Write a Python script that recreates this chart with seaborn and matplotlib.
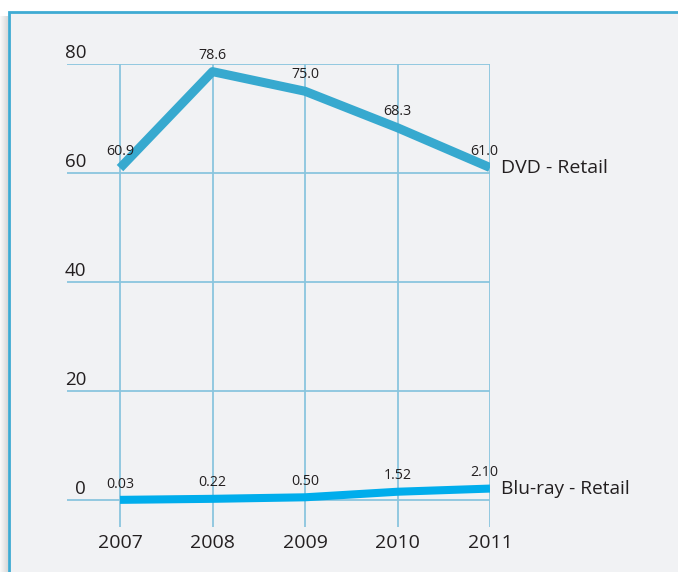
import numpy as np
import pandas as pd
import seaborn as sns
import matplotlib.pyplot as plt
from matplotlib.patches import Rectangle
from matplotlib.transforms import blended_transform_factory

years = [2007, 2008, 2009, 2010, 2011]
dvd_retail = [60.9, 78.6, 75.0, 68.3, 61.0]
bluray_retail = [0.03, 0.22, 0.50, 1.52, 2.10]
dvd_labels = ["60.9", "78.6", "75.0", "68.3", "61.0"]
bluray_labels = ["0.03", "0.22", "0.50", "1.52", "2.10"]
series_names = ["DVD - Retail", "Blu-ray - Retail"]
y_ticks = [0, 20, 40, 60, 80]
y_tick_labels = ["0", "20", "40", "60", "80"]

df = pd.DataFrame({
    "year": years * 2,
    "value": dvd_retail + bluray_retail,
    "series": [series_names[0]] * 5 + [series_names[1]] * 5,
})

sns.set_style("white")
plt.rcParams["font.family"] = ["Open Sans", "DejaVu Sans"]

W, H = 678, 572
fig = plt.figure(figsize=(W / 100, H / 100), dpi=100, facecolor="white")

# left shadow
for i, a in enumerate([0.06, 0.09, 0.12, 0.16, 0.20, 0.24, 0.28, 0.30]):
    fig.patches.append(Rectangle((i / W, 0), 1.05 / W, (H - 16) / H,
                                 transform=fig.transFigure, facecolor="#8a8a8a",
                                 alpha=a, edgecolor="none", zorder=-3))
# panel
fig.patches.append(Rectangle((8.5 / W, -0.05), 1.2, (H - 11.5) / H + 0.05,
                             transform=fig.transFigure, facecolor="#f1f2f4",
                             edgecolor="#3fabd3", linewidth=2.0, zorder=-2))

left, right, top, bottom = 67, 490, 64, 527
ax = fig.add_axes([left / W, 1 - bottom / H, (right - left) / W, (bottom - top) / H])
ax.set_facecolor("none")
ax.set_zorder(1)

palette = {series_names[0]: "#37a9cf", series_names[1]: "#00adec"}
sns.lineplot(data=df, x="year", y="value", hue="series", palette=palette,
             ax=ax, legend=False, linewidth=6.5, solid_capstyle="butt", zorder=3)
ax.lines[1].set_linewidth(5.8)

ax.set_xlim(2007 - 53 / 92.5, 2011)
ax.set_ylim(-4.95, 80)
ax.set_xticks(years)
ax.set_xticklabels([str(y) for y in years], fontsize=14, color="#231f20")
ax.set_yticks(y_ticks)
ax.set_yticklabels([])
ax.tick_params(length=0, axis="x", pad=5)
ax.tick_params(length=0, axis="y")
ax.grid(True, color="#8ac5de", linewidth=1.3)
ax.set_axisbelow(True)
for s in ax.spines.values():
    s.set_visible(False)
ax.set_xlabel("")
ax.set_ylabel("")

trans = blended_transform_factory(ax.transAxes, ax.transData)
for v, lab in zip(y_ticks, y_tick_labels):
    ax.annotate(lab, xy=(19 / (right - left), v), xycoords=trans,
                xytext=(0, 1.5), textcoords="offset points",
                ha="right", va="bottom", fontsize=13.5, color="#231f20")

for i, (x, v, lab) in enumerate(zip(years, dvd_retail, dvd_labels)):
    dx = -4 if i == len(years) - 1 else 0
    ax.annotate(lab, xy=(x, v), xytext=(dx, 6.5), textcoords="offset points",
                ha="center", va="bottom", fontsize=10.3, color="#231f20")
for i, (x, v, lab) in enumerate(zip(years, bluray_retail, bluray_labels)):
    dx = -4 if i == len(years) - 1 else 0
    ax.annotate(lab, xy=(x, v), xytext=(dx, 6), textcoords="offset points",
                ha="center", va="bottom", fontsize=10.3, color="#231f20")

ax.annotate(series_names[0], xy=(years[-1], dvd_retail[-1]), xytext=(8, 0),
            textcoords="offset points", ha="left", va="center",
            fontsize=14, color="#231f20", annotation_clip=False)
ax.annotate(series_names[1], xy=(years[-1], bluray_retail[-1]), xytext=(8, 0),
            textcoords="offset points", ha="left", va="center",
            fontsize=13.8, color="#231f20", annotation_clip=False)

fig.savefig("out.png", dpi=100, facecolor="white")
